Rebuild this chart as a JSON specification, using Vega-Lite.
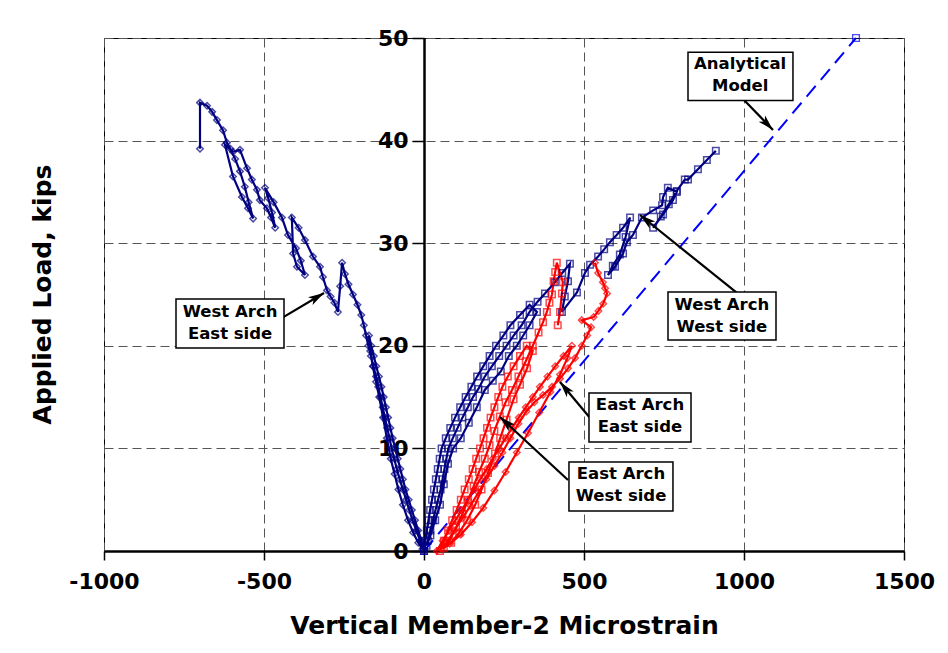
{
  "$schema": "https://vega.github.io/schema/vega-lite/v6.json",
  "width": 800,
  "height": 513,
  "autosize": {"type": "none"},
  "padding": {"left": 104, "top": 38, "right": 44, "bottom": 102},
  "background": "white",
  "config": {"view": {"stroke": "black", "strokeWidth": 1}, "font": "DejaVu Sans"},
  "datasets": {
    "series": [
      {"s":"WAE","x":0,"y":0},{"s":"WAE","x":-8,"y":1},{"s":"WAE","x":-18,"y":2},{"s":"WAE","x":-28,"y":3},{"s":"WAE","x":-38,"y":4},{"s":"WAE","x":-48,"y":5},{"s":"WAE","x":-58,"y":6},{"s":"WAE","x":-66,"y":7},{"s":"WAE","x":-74,"y":8},{"s":"WAE","x":-82,"y":9},{"s":"WAE","x":-90,"y":10},{"s":"WAE","x":-98,"y":11},{"s":"WAE","x":-105,"y":12},{"s":"WAE","x":-112,"y":13},{"s":"WAE","x":-119,"y":14},{"s":"WAE","x":-126,"y":15},{"s":"WAE","x":-133,"y":16},{"s":"WAE","x":-141,"y":17},{"s":"WAE","x":-149,"y":18},{"s":"WAE","x":-157,"y":19},{"s":"WAE","x":-165,"y":20},{"s":"WAE","x":-172,"y":21},
      {"s":"WAE","x":-168,"y":19.5},{"s":"WAE","x":-160,"y":18},{"s":"WAE","x":-150,"y":16.5},{"s":"WAE","x":-140,"y":15},{"s":"WAE","x":-128,"y":13},{"s":"WAE","x":-116,"y":11},{"s":"WAE","x":-104,"y":9},{"s":"WAE","x":-92,"y":7.5},{"s":"WAE","x":-80,"y":6},{"s":"WAE","x":-66,"y":4.5},{"s":"WAE","x":-50,"y":3},{"s":"WAE","x":-34,"y":1.8},{"s":"WAE","x":-18,"y":0.8},{"s":"WAE","x":-5,"y":0.2},
      {"s":"WAE","x":-12,"y":1},{"s":"WAE","x":-24,"y":2},{"s":"WAE","x":-36,"y":3},{"s":"WAE","x":-46,"y":4},{"s":"WAE","x":-56,"y":5},{"s":"WAE","x":-66,"y":6},{"s":"WAE","x":-76,"y":7},{"s":"WAE","x":-85,"y":8},{"s":"WAE","x":-93,"y":9},{"s":"WAE","x":-101,"y":10},{"s":"WAE","x":-108,"y":11},{"s":"WAE","x":-115,"y":12},{"s":"WAE","x":-122,"y":13},{"s":"WAE","x":-129,"y":14},{"s":"WAE","x":-136,"y":15},{"s":"WAE","x":-143,"y":16},{"s":"WAE","x":-150,"y":17},{"s":"WAE","x":-158,"y":18},{"s":"WAE","x":-166,"y":19},{"s":"WAE","x":-174,"y":20},{"s":"WAE","x":-181,"y":21},{"s":"WAE","x":-188,"y":22},{"s":"WAE","x":-196,"y":23},{"s":"WAE","x":-208,"y":24},{"s":"WAE","x":-222,"y":25},{"s":"WAE","x":-236,"y":26},{"s":"WAE","x":-247,"y":27},{"s":"WAE","x":-256,"y":28.1},
      {"s":"WAE","x":-262,"y":25.8},{"s":"WAE","x":-269,"y":23.3},
      {"s":"WAE","x":-280,"y":24.2},{"s":"WAE","x":-292,"y":24.8},{"s":"WAE","x":-303,"y":25.4},{"s":"WAE","x":-316,"y":26.7},{"s":"WAE","x":-325,"y":27.7},{"s":"WAE","x":-347,"y":28.7},{"s":"WAE","x":-372,"y":30.3},{"s":"WAE","x":-392,"y":31.5},{"s":"WAE","x":-413,"y":32.5},
      {"s":"WAE","x":-409,"y":29},{"s":"WAE","x":-397,"y":27.7},{"s":"WAE","x":-372,"y":26.9},
      {"s":"WAE","x":-385,"y":28.3},{"s":"WAE","x":-400,"y":29.5},{"s":"WAE","x":-425,"y":30.8},{"s":"WAE","x":-444,"y":32.5},{"s":"WAE","x":-470,"y":34},{"s":"WAE","x":-497,"y":35.4},
      {"s":"WAE","x":-487,"y":34.4},{"s":"WAE","x":-475,"y":33},{"s":"WAE","x":-465,"y":31.5},
      {"s":"WAE","x":-478,"y":32.5},{"s":"WAE","x":-491,"y":33.4},{"s":"WAE","x":-513,"y":34.2},{"s":"WAE","x":-522,"y":35.2},{"s":"WAE","x":-538,"y":36.2},{"s":"WAE","x":-553,"y":37.3},{"s":"WAE","x":-575,"y":39.1},{"s":"WAE","x":-597,"y":38.9},{"s":"WAE","x":-622,"y":39.6},
      {"s":"WAE","x":-597,"y":36.5},{"s":"WAE","x":-569,"y":34.5},{"s":"WAE","x":-550,"y":33.4},{"s":"WAE","x":-534,"y":32.4},
      {"s":"WAE","x":-548,"y":34},{"s":"WAE","x":-560,"y":35.5},{"s":"WAE","x":-575,"y":37},{"s":"WAE","x":-590,"y":38.2},{"s":"WAE","x":-605,"y":39.2},{"s":"WAE","x":-616,"y":39.8},{"s":"WAE","x":-628,"y":41},{"s":"WAE","x":-647,"y":42},{"s":"WAE","x":-662,"y":42.8},{"s":"WAE","x":-678,"y":43.4},{"s":"WAE","x":-700,"y":43.7},{"s":"WAE","x":-700,"y":39.2},

      {"s":"WAW","x":0,"y":0},{"s":"WAW","x":4,"y":1},{"s":"WAW","x":9,"y":2},{"s":"WAW","x":14,"y":3},{"s":"WAW","x":19,"y":4},{"s":"WAW","x":25,"y":5},{"s":"WAW","x":31,"y":6},{"s":"WAW","x":37,"y":7},{"s":"WAW","x":43,"y":8},{"s":"WAW","x":49,"y":9},{"s":"WAW","x":55,"y":10},{"s":"WAW","x":68,"y":11},{"s":"WAW","x":82,"y":12},{"s":"WAW","x":97,"y":13},{"s":"WAW","x":113,"y":14},{"s":"WAW","x":130,"y":15},{"s":"WAW","x":148,"y":16},{"s":"WAW","x":166,"y":17},{"s":"WAW","x":185,"y":18},{"s":"WAW","x":205,"y":19},{"s":"WAW","x":225,"y":20},{"s":"WAW","x":248,"y":21},{"s":"WAW","x":270,"y":22},{"s":"WAW","x":300,"y":23},{"s":"WAW","x":330,"y":24},
      {"s":"WAW","x":353,"y":23.3},{"s":"WAW","x":330,"y":22},{"s":"WAW","x":310,"y":21},{"s":"WAW","x":290,"y":20},{"s":"WAW","x":265,"y":19},{"s":"WAW","x":240,"y":17.5},{"s":"WAW","x":215,"y":16.6},{"s":"WAW","x":190,"y":15.7},{"s":"WAW","x":165,"y":14},{"s":"WAW","x":140,"y":12.5},{"s":"WAW","x":115,"y":11},{"s":"WAW","x":91,"y":10},{"s":"WAW","x":75,"y":8.5},{"s":"WAW","x":62,"y":6.5},{"s":"WAW","x":50,"y":4.5},{"s":"WAW","x":35,"y":3},{"s":"WAW","x":20,"y":1.5},{"s":"WAW","x":8,"y":0.5},
      {"s":"WAW","x":12,"y":1},{"s":"WAW","x":20,"y":2},{"s":"WAW","x":28,"y":3},{"s":"WAW","x":36,"y":4},{"s":"WAW","x":44,"y":5},{"s":"WAW","x":52,"y":6},{"s":"WAW","x":58,"y":7},{"s":"WAW","x":64,"y":8},{"s":"WAW","x":70,"y":9},{"s":"WAW","x":76,"y":10},{"s":"WAW","x":90,"y":11},{"s":"WAW","x":105,"y":12},{"s":"WAW","x":120,"y":13},{"s":"WAW","x":137,"y":14},{"s":"WAW","x":153,"y":15},{"s":"WAW","x":170,"y":15.8},{"s":"WAW","x":190,"y":17},{"s":"WAW","x":212,"y":18},{"s":"WAW","x":235,"y":19},{"s":"WAW","x":258,"y":20},{"s":"WAW","x":280,"y":21},{"s":"WAW","x":305,"y":22},{"s":"WAW","x":330,"y":23.3},{"s":"WAW","x":355,"y":24.3},{"s":"WAW","x":378,"y":25.1},{"s":"WAW","x":409,"y":26.2},{"s":"WAW","x":432,"y":27.1},{"s":"WAW","x":456,"y":28},
      {"s":"WAW","x":450,"y":26.3},{"s":"WAW","x":440,"y":24.8},{"s":"WAW","x":431,"y":23.3},
      {"s":"WAW","x":478,"y":25.2},{"s":"WAW","x":503,"y":27.1},{"s":"WAW","x":519,"y":27.9},{"s":"WAW","x":544,"y":28.7},{"s":"WAW","x":563,"y":29.4},{"s":"WAW","x":581,"y":30.1},{"s":"WAW","x":602,"y":30.8},{"s":"WAW","x":622,"y":31.5},{"s":"WAW","x":644,"y":32.5},
      {"s":"WAW","x":630,"y":30.6},{"s":"WAW","x":612,"y":28.9},{"s":"WAW","x":590,"y":27.8},{"s":"WAW","x":575,"y":26.9},
      {"s":"WAW","x":597,"y":27.7},{"s":"WAW","x":622,"y":29},{"s":"WAW","x":634,"y":30.1},{"s":"WAW","x":653,"y":30.8},{"s":"WAW","x":681,"y":32.5},{"s":"WAW","x":716,"y":33.2},{"s":"WAW","x":744,"y":33.7},{"s":"WAW","x":747,"y":34.5},{"s":"WAW","x":762,"y":35.4},{"s":"WAW","x":790,"y":35},
      {"s":"WAW","x":778,"y":34.2},{"s":"WAW","x":747,"y":32.8},{"s":"WAW","x":716,"y":31.5},
      {"s":"WAW","x":740,"y":32.6},{"s":"WAW","x":765,"y":33.8},{"s":"WAW","x":790,"y":35.1},{"s":"WAW","x":815,"y":36.2},{"s":"WAW","x":825,"y":36.2},{"s":"WAW","x":856,"y":37.2},{"s":"WAW","x":884,"y":38.1},{"s":"WAW","x":912,"y":39},

      {"s":"EAW","x":50,"y":0},{"s":"EAW","x":62,"y":1},{"s":"EAW","x":75,"y":2},{"s":"EAW","x":88,"y":3},{"s":"EAW","x":102,"y":4},{"s":"EAW","x":115,"y":5},{"s":"EAW","x":127,"y":6},{"s":"EAW","x":140,"y":7},{"s":"EAW","x":152,"y":8},{"s":"EAW","x":163,"y":9},{"s":"EAW","x":175,"y":10},{"s":"EAW","x":186,"y":11},{"s":"EAW","x":197,"y":12},{"s":"EAW","x":208,"y":13},{"s":"EAW","x":220,"y":14},{"s":"EAW","x":232,"y":15},{"s":"EAW","x":245,"y":16},{"s":"EAW","x":262,"y":17},{"s":"EAW","x":280,"y":18},{"s":"EAW","x":300,"y":19},{"s":"EAW","x":321,"y":20},
      {"s":"EAW","x":340,"y":19.5},{"s":"EAW","x":322,"y":17.8},{"s":"EAW","x":300,"y":16.2},{"s":"EAW","x":280,"y":14.8},{"s":"EAW","x":258,"y":12.8},{"s":"EAW","x":238,"y":11},{"s":"EAW","x":222,"y":9.5},{"s":"EAW","x":200,"y":7.6},{"s":"EAW","x":180,"y":6},{"s":"EAW","x":160,"y":4.5},{"s":"EAW","x":135,"y":3},{"s":"EAW","x":110,"y":1.8},{"s":"EAW","x":85,"y":0.8},{"s":"EAW","x":62,"y":0.3},
      {"s":"EAW","x":80,"y":1},{"s":"EAW","x":100,"y":2.3},{"s":"EAW","x":120,"y":3.6},{"s":"EAW","x":138,"y":5},{"s":"EAW","x":155,"y":6.3},{"s":"EAW","x":172,"y":7.7},{"s":"EAW","x":190,"y":9},{"s":"EAW","x":205,"y":10.3},{"s":"EAW","x":220,"y":11.7},{"s":"EAW","x":237,"y":13.1},{"s":"EAW","x":255,"y":14.5},{"s":"EAW","x":275,"y":15.7},{"s":"EAW","x":295,"y":17},{"s":"EAW","x":318,"y":18.5},{"s":"EAW","x":340,"y":20},{"s":"EAW","x":358,"y":21.3},{"s":"EAW","x":372,"y":22.3},{"s":"EAW","x":384,"y":23.3},{"s":"EAW","x":392,"y":24.2},{"s":"EAW","x":400,"y":25},{"s":"EAW","x":405,"y":26.3},{"s":"EAW","x":410,"y":27.2},{"s":"EAW","x":415,"y":28.1},
      {"s":"EAW","x":434,"y":26.2},{"s":"EAW","x":431,"y":25.1},{"s":"EAW","x":425,"y":23.3},{"s":"EAW","x":418,"y":22},

      {"s":"EAE","x":40,"y":0},{"s":"EAE","x":58,"y":1},{"s":"EAE","x":78,"y":2},{"s":"EAE","x":98,"y":3},{"s":"EAE","x":118,"y":4},{"s":"EAE","x":137,"y":5},{"s":"EAE","x":157,"y":6},{"s":"EAE","x":176,"y":7},{"s":"EAE","x":196,"y":8},{"s":"EAE","x":215,"y":9},{"s":"EAE","x":235,"y":10},{"s":"EAE","x":255,"y":11},{"s":"EAE","x":275,"y":12},{"s":"EAE","x":296,"y":13},{"s":"EAE","x":318,"y":14},{"s":"EAE","x":340,"y":15},{"s":"EAE","x":362,"y":16},{"s":"EAE","x":386,"y":17},{"s":"EAE","x":410,"y":18},{"s":"EAE","x":436,"y":19},{"s":"EAE","x":462,"y":20},
      {"s":"EAE","x":448,"y":18.8},{"s":"EAE","x":425,"y":17.2},{"s":"EAE","x":395,"y":15.5},{"s":"EAE","x":360,"y":13.5},{"s":"EAE","x":325,"y":11.5},{"s":"EAE","x":290,"y":9.6},{"s":"EAE","x":255,"y":7.7},{"s":"EAE","x":220,"y":5.9},{"s":"EAE","x":185,"y":4.2},{"s":"EAE","x":150,"y":2.8},{"s":"EAE","x":115,"y":1.6},{"s":"EAE","x":80,"y":0.7},{"s":"EAE","x":55,"y":0.2},
      {"s":"EAE","x":70,"y":0.8},{"s":"EAE","x":95,"y":2},{"s":"EAE","x":120,"y":3.2},{"s":"EAE","x":145,"y":4.4},{"s":"EAE","x":170,"y":5.7},{"s":"EAE","x":195,"y":7},{"s":"EAE","x":220,"y":8.3},{"s":"EAE","x":245,"y":9.6},{"s":"EAE","x":270,"y":11},{"s":"EAE","x":295,"y":12.4},{"s":"EAE","x":320,"y":13.6},{"s":"EAE","x":345,"y":14.5},{"s":"EAE","x":372,"y":15.2},{"s":"EAE","x":400,"y":16},{"s":"EAE","x":425,"y":16.8},{"s":"EAE","x":450,"y":17.8},{"s":"EAE","x":472,"y":18.8},{"s":"EAE","x":493,"y":20},{"s":"EAE","x":510,"y":21},{"s":"EAE","x":522,"y":21.8},{"s":"EAE","x":493,"y":22.5},{"s":"EAE","x":530,"y":22.8},{"s":"EAE","x":545,"y":23.4},{"s":"EAE","x":560,"y":24.1},{"s":"EAE","x":572,"y":25.1},{"s":"EAE","x":566,"y":25.6},{"s":"EAE","x":559,"y":26.2},{"s":"EAE","x":544,"y":27.1},{"s":"EAE","x":534,"y":28.1},

      {"s":"AM","x":0,"y":0},{"s":"AM","x":1350,"y":50}
    ],
    "boxes": [
      {"x":825,"x2":1153,"y":48.6,"y2":43.9},
      {"x":-775,"x2":-437.5,"y":24.56,"y2":19.79},
      {"x":762.5,"x2":1100,"y":25.24,"y2":20.57},
      {"x":515.6,"x2":834.4,"y":15.4,"y2":10.62},
      {"x":453,"x2":778,"y":8.67,"y2":3.9}
    ],
    "labels": [
      {"x":988,"y":47.47,"t":"Analytical\nModel"},
      {"x":-606,"y":23.29,"t":"West Arch\nEast side"},
      {"x":931,"y":23.98,"t":"West Arch\nWest side"},
      {"x":675,"y":14.23,"t":"East Arch\nEast side"},
      {"x":615.6,"y":7.5,"t":"East Arch\nWest side"}
    ],
    "arrows": [
      {"x":1090.6,"y":41.03,"xt":1000,"yt":43.96},
      {"x":-312.5,"y":25.15,"xt":-450,"yt":22.6},
      {"x":675,"y":32.75,"xt":978,"yt":25.15},
      {"x":425,"y":16.47,"xt":519,"yt":12.96},
      {"x":237.5,"y":13.06,"xt":450,"yt":6.92}
    ]
  },
  "encoding": {
    "x": {
      "field": "x", "type": "quantitative",
      "scale": {"domain": [-1000, 1500], "nice": false, "zero": false},
      "axis": {
        "title": "Vertical Member-2 Microstrain",
        "values": [-1000, -500, 0, 500, 1000, 1500],
        "labelExpr": "'' + datum.value",
        "grid": true, "gridDash": [9, 5], "gridColor": "#555", "gridWidth": 1, "gridOpacity": 1,
        "domainColor": "black", "domainWidth": 2.5,
        "tickColor": "black", "tickWidth": 1.5, "tickSize": 9,
        "labelFont": "DejaVu Sans", "labelFontWeight": "bold", "labelFontSize": 22, "labelColor": "black",
        "labelPadding": 11, "labelFlush": false, "labelOverlap": false, "labelBound": false,
        "titleFont": "DejaVu Sans", "titleFontWeight": "bold", "titleFontSize": 25, "titleColor": "black",
        "titlePadding": 21
      }
    },
    "y": {
      "field": "y", "type": "quantitative",
      "scale": {"domain": [0, 50], "nice": false, "zero": false},
      "axis": {
        "title": "Applied Load, kips",
        "values": [0, 10, 20, 30, 40, 50],
        "offset": -320,
        "grid": true, "gridDash": [9, 5], "gridColor": "#555", "gridWidth": 1, "gridOpacity": 1,
        "domainColor": "black", "domainWidth": 2.5,
        "tickColor": "black", "tickWidth": 1.5, "tickSize": 12,
        "labelFont": "DejaVu Sans", "labelFontWeight": "bold", "labelFontSize": 22, "labelColor": "black",
        "labelPadding": 4, "labelFlush": false, "labelOverlap": false, "labelBound": false,
        "titleFont": "DejaVu Sans", "titleFontWeight": "bold", "titleFontSize": 25, "titleColor": "black",
        "titleX": -382, "titleY": 256, "titleAngle": -90, "titleAlign": "center", "titleBaseline": "middle"
      }
    }
  },
  "layer": [
    {
      "data": {"name": "series"},
      "transform": [{"filter": "datum.s === 'AM'"}],
      "mark": {"type": "line", "color": "#0000FF", "strokeWidth": 2, "strokeDash": [14, 8]},
      "encoding": {"order": {"value": null}}
    },
    {
      "data": {"name": "series"},
      "transform": [{"filter": "datum.s === 'AM'"}],
      "mark": {"type": "point", "shape": "square", "filled": false, "color": "#0000FF", "size": 45, "strokeWidth": 1.4}
    },
    {
      "data": {"name": "series"},
      "transform": [{"filter": "datum.s !== 'AM'"}],
      "mark": {"type": "line", "strokeWidth": 2.2},
      "encoding": {
        "color": {"field": "s", "type": "nominal", "scale": {"domain": ["WAE", "WAW", "EAW", "EAE"], "range": ["#000080", "#000080", "#FF0000", "#FF0000"]}, "legend": null},
        "detail": {"field": "s"},
        "order": {"value": null}
      }
    },
    {
      "data": {"name": "series"},
      "transform": [{"filter": "datum.s !== 'AM'"}],
      "mark": {"type": "point", "filled": false, "size": 42, "strokeWidth": 1.5},
      "encoding": {
        "color": {"field": "s", "type": "nominal", "scale": {"domain": ["WAE", "WAW", "EAW", "EAE"], "range": ["#000080", "#000080", "#FF0000", "#FF0000"]}, "legend": null},
        "shape": {"field": "s", "type": "nominal", "scale": {"domain": ["WAE", "WAW", "EAW", "EAE"], "range": ["diamond", "square", "square", "diamond"]}, "legend": null}
      }
    },
    {
      "data": {"name": "arrows"},
      "mark": {"type": "rule", "color": "black", "strokeWidth": 2.2},
      "encoding": {"x2": {"field": "xt"}, "y2": {"field": "yt"}}
    },
    {
      "data": {"name": "arrows"},
      "transform": [{"calculate": "atan2((datum.x - datum.xt) * 0.32, (datum.y - datum.yt) * 10.26) * 180 / PI", "as": "ang"}],
      "mark": {"type": "point", "shape": "M0,0L0.45,1.6L0,1.2L-0.45,1.6Z", "filled": true, "color": "black", "size": 400, "opacity": 1},
      "encoding": {
        "angle": {"field": "ang", "type": "quantitative", "scale": null}
      }
    },
    {
      "data": {"name": "boxes"},
      "mark": {"type": "rect", "fill": "white", "stroke": "black", "strokeWidth": 1.5},
      "encoding": {"x2": {"field": "x2"}, "y2": {"field": "y2"}}
    },
    {
      "data": {"name": "labels"},
      "mark": {"type": "text", "font": "DejaVu Sans", "fontWeight": "bold", "fontSize": 16.5, "color": "black", "align": "center", "baseline": "middle", "lineBreak": "\n", "lineHeight": 22},
      "encoding": {"text": {"field": "t"}}
    }
  ]
}
